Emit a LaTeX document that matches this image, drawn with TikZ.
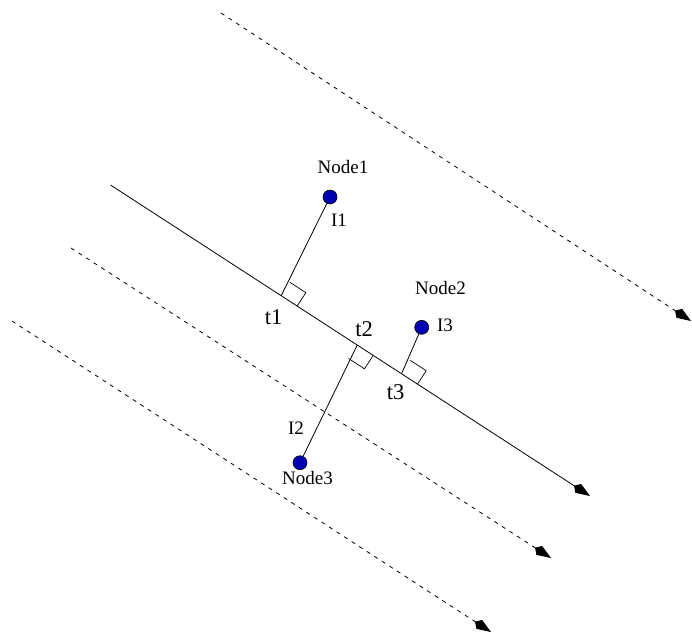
\documentclass[tikz,border=0pt]{standalone}
\usepackage{fontspec}
\setmainfont{Liberation Serif}
\usetikzlibrary{arrows.meta,calc}
\definecolor{dotblue}{RGB}{0,0,178}
\tikzset{
  base/.style={line width=0.8pt},
  kitearrow/.style={-{Kite[length=19pt,width=10.5pt,inset=5pt]}},
  dashline/.style={base,dash pattern=on 4pt off 5pt,kitearrow},
  mainline/.style={base,kitearrow},
  dot/.style={circle,draw=black,line width=0.6pt,fill=dotblue,minimum size=14pt,inner sep=0pt},
  nlab/.style={font=\fontsize{19}{21}\selectfont,inner sep=0pt},
  tlab/.style={font=\fontsize{22.5}{24}\selectfont,inner sep=0pt},
  rightsq/.style={line width=0.7pt}
}
\begin{document}
\begin{tikzpicture}[x=1pt,y=-1pt]
\useasboundingbox (0,0) rectangle (692,633);
% dashed lines
\coordinate (a0) at (221,13);
\coordinate (a1) at (691,321);
\coordinate (b0) at (71,248);
\coordinate (b1) at (551,558);
\coordinate (c0) at (12,321);
\coordinate (c1) at (491,632);
\draw[dashline] (a0) -- (a1);
\draw[dashline] (b0) -- (b1);
\draw[dashline] (c0) -- (c1);
% main line
\coordinate (m0) at (110.5,185);
\coordinate (m1) at (590,496);
\draw[mainline] (m0) -- (m1);
% feet
\coordinate (f1) at ($(m0)!0.356!(m1)$);
\coordinate (f2) at ($(m0)!0.5146!(m1)$);
\coordinate (f3) at ($(m0)!0.607!(m1)$);
% nodes
\node[dot] (n1) at (330,197) {};
\node[dot] (n2) at (421.7,327.3) {};
\node[dot] (n3) at (300,462.7) {};
\draw[base] (n1) -- (f1);
\draw[base] (n2) -- (f3);
\draw[base] (n3) -- (f2);
% right-angle markers
\coordinate (f1a) at ($(f1)!19pt!(m1)$);
\coordinate (f1b) at ($(f1)!16pt!90:(m1)$);
\draw[rightsq] (f1a) -- ($(f1a)+(f1b)-(f1)$) -- (f1b);
\coordinate (f3a) at ($(f3)!19pt!(m1)$);
\coordinate (f3b) at ($(f3)!16pt!90:(m1)$);
\draw[rightsq] (f3a) -- ($(f3a)+(f3b)-(f3)$) -- (f3b);
\coordinate (f2a) at ($(f2)!19pt!(m1)$);
\coordinate (f2b) at ($(f2)!16pt!-90:(m1)$);
\draw[rightsq] (f2a) -- ($(f2a)+(f2b)-(f2)$) -- (f2b);
% labels
\node[nlab] (l1) at (343,167) {Node1};
\node[nlab] (i1) at (339,220) {I1};
\node[tlab] (t1) at (273.5,317) {t1};
\node[tlab] (t2) at (364,329) {t2};
\node[tlab] (t3) at (395.5,392.5) {t3};
\node[nlab] (l2) at (440.5,288) {Node2};
\node[nlab] (i3) at (445,325) {I3};
\node[nlab] (i2) at (296,428) {I2};
\node[nlab] (l3) at (307.5,477.5) {Node3};
\end{tikzpicture}
\end{document}
